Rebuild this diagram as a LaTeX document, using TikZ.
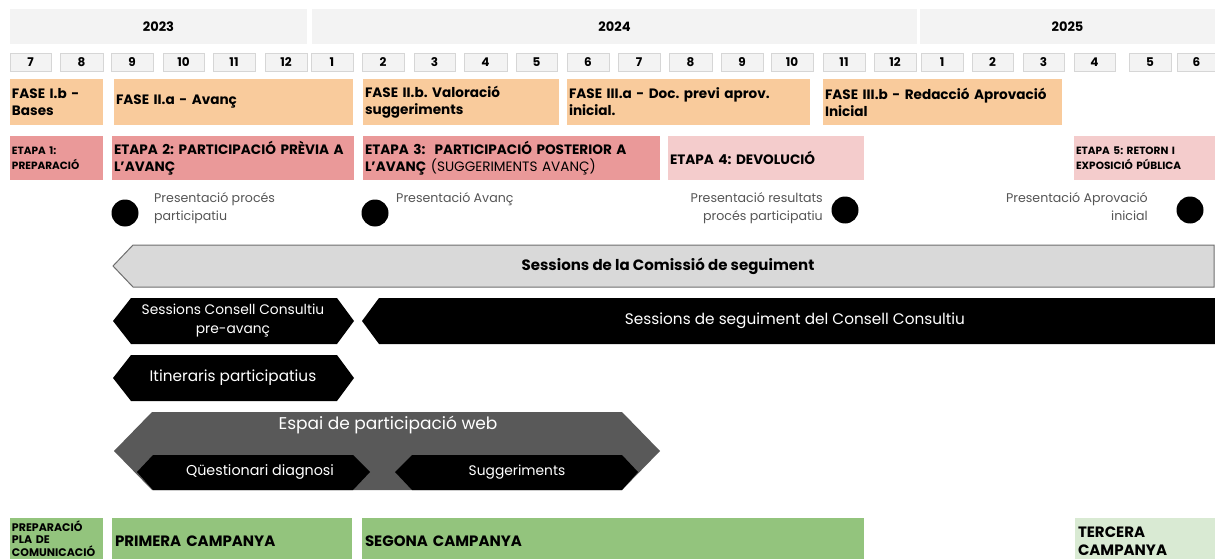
\documentclass[tikz,border=0pt]{standalone}
\usepackage{fontspec}
\setmainfont{Poppins}
\frenchspacing
\definecolor{hdr}{HTML}{F3F3F3}
\definecolor{hdrline}{HTML}{D6D6D6}
\definecolor{peach}{HTML}{F9CB9C}
\definecolor{rose}{HTML}{EA9999}
\definecolor{pink}{HTML}{F4CCCC}
\definecolor{green}{HTML}{93C47D}
\definecolor{lgreen}{HTML}{D9EAD3}
\definecolor{comfill}{HTML}{D9D9D9}
\definecolor{comline}{HTML}{6E6E6E}
\definecolor{webgray}{HTML}{595959}
\definecolor{txtgray}{HTML}{555555}
\newcommand{\fsz}[2]{\fontsize{#1}{#2}\selectfont}
\begin{document}
\begin{tikzpicture}[x=1pt,y=-1pt,
  cell/.style={anchor=north west, inner sep=0pt, outer sep=0pt},
  yearbox/.style={cell, fill=hdr, minimum height=35pt, font=\fsz{13}{16}\bfseries},
  monbox/.style={cell, fill=hdr, draw=hdrline, line width=0.6pt, minimum height=18pt, font=\fsz{12}{14}\bfseries},
  fasebox/.style={cell, fill=peach, minimum height=46pt, align=left, inner xsep=2pt, font=\fsz{13.6}{17}\bfseries},
  etapabox/.style={cell, minimum height=44pt, align=left, inner xsep=2pt, font=\fsz{13.6}{17}\bfseries},
  campbox/.style={cell, minimum height=47pt, align=left, inner xsep=3pt, font=\fsz{15}{18}\bfseries},
  dot/.style={circle, fill=black, minimum size=27pt, inner sep=0pt},
  presl/.style={anchor=north west, align=left, inner sep=0pt, text=txtgray, font=\fsz{12.6}{18.5}},
  presr/.style={anchor=north east, align=right, inner sep=0pt, text=txtgray, font=\fsz{12.6}{18.5}},
  wtext/.style={text=white, align=center, inner sep=0pt},
]
\useasboundingbox (0,0) rectangle (1215,559);
\clip (0,0) rectangle (1215,559);

% years
\node[yearbox, minimum width=297pt] (y23) at (10,9) {2023};
\node[yearbox, minimum width=605pt] (y24) at (312,9) {2024};
\node[yearbox, minimum width=295pt] (y25) at (920,9) {2025};

% months
\foreach \l/\r/\t [count=\i] in {10/51/7, 60/103/8, 111/153/9, 163/204/10, 213/255/11, 265/307/12,
  311/353/1, 362/404/2, 414/455/3, 464/507/4, 516/557/5, 567/609/6, 618/660/7, 669/712/8,
  721/763/9, 771/813/10, 823/865/11, 874/916/12, 921/963/1, 972/1013/2, 1023/1064/3,
  1074/1115/4, 1129/1171/5, 1177/1216/6}{
  \pgfmathsetmacro{\w}{\r-\l}
  \node[monbox, minimum width=\w pt] (m\i) at (\l,53) {\t};
}

% fases
\node[fasebox, minimum width=93pt, text width=89pt] (f1) at (10,79) {FASE I.b -\\Bases};
\node[fasebox, minimum width=239pt, text width=235pt] (f2) at (114,79) {FASE II.a - Avanç};
\node[fasebox, minimum width=196pt, text width=192pt] (f3) at (363,79) {FASE II.b. Valoració\\suggeriments};
\node[fasebox, minimum width=243pt, text width=239pt] (f4) at (567,79) {FASE III.a - Doc. previ aprov.\\inicial.};
\node[fasebox, minimum width=239pt, text width=235pt] (f5) at (823,79) {FASE III.b - Redacció Aprovació\\Inicial};

% etapes
\node[etapabox, fill=rose, minimum width=93pt, text width=89pt, font=\fsz{10.5}{15}\bfseries] (e1) at (10,136) {ETAPA 1:\\PREPARACIÓ};
\node[etapabox, fill=rose, minimum width=242pt, text width=238pt] (e2) at (112,136) {ETAPA 2: PARTICIPACIÓ PRÈVIA A\\L’AVANÇ};
\node[etapabox, fill=rose, minimum width=297pt, text width=293pt] (e3) at (363,136) {ETAPA 3:\ \ PARTICIPACIÓ POSTERIOR A\\L’AVANÇ {\mdseries (SUGGERIMENTS AVANÇ)}};
\node[etapabox, fill=pink, minimum width=196pt, text width=192pt] (e4) at (668,136) {ETAPA 4: DEVOLUCIÓ};
\node[etapabox, fill=pink, minimum width=141pt, text width=137pt, font=\fsz{10.5}{15}\bfseries] (e5) at (1074,136) {ETAPA 5: RETORN I\\EXPOSICIÓ PÚBLICA};

% milestones
\node[dot] (d1) at (125,213) {};
\node[presl] (p1) at (154,192) {Presentació procés\\participatiu};
\node[dot] (d2) at (375,213) {};
\node[presl] (p2) at (396,192) {Presentació Avanç};
\node[dot] (d3) at (845,210) {};
\node[presr] (p3) at (823,192) {Presentació resultats\\procés participatiu};
\node[dot] (d4) at (1190,210) {};
\node[presr] (p4) at (1148,192) {Presentació Aprovació\\inicial};

% Comissió de seguiment
\fill[comfill, draw=comline, line width=1pt] (1214,245) -- (133,245) -- (113,266) -- (133,287) -- (1214,287) -- cycle;
\node[inner sep=0pt, font=\fsz{15}{18}\bfseries] (com) at (668,266) {Sessions de la Comissió de seguiment};

% Consell Consultiu
\fill[black] (131,298) -- (337,298) -- (354,321) -- (337,344) -- (131,344) -- (113,321) -- cycle;
\node[wtext, font=\fsz{13.8}{19}] (cc1) at (233,321) {Sessions Consell Consultiu\\pre-avanç};
\fill[black] (379,298) -- (1215,298) -- (1215,344) -- (379,344) -- (362,321) -- cycle;
\node[wtext, font=\fsz{15.3}{18}] (cc2) at (795,321) {Sessions de seguiment del Consell Consultiu};

% Itineraris
\fill[black] (131,355) -- (337,355) -- (354,378) -- (337,401) -- (131,401) -- (113,378) -- cycle;
\node[wtext, font=\fsz{15.3}{18}] (it) at (233,378) {Itineraris participatius};

% Web
\fill[webgray] (152,412) -- (622,412) -- (660,451) -- (622,490) -- (152,490) -- (114,451) -- cycle;
\node[wtext, font=\fsz{17}{20}] (web) at (388,425) {Espai de participació web};
\fill[black] (153,455) -- (353,455) -- (370,472) -- (353,490) -- (153,490) -- (137,472) -- cycle;
\node[wtext, font=\fsz{14.3}{16}] (q) at (260,472) {Qüestionari diagnosi};
\fill[black] (412,455) -- (622,455) -- (638,472) -- (622,490) -- (412,490) -- (395,472) -- cycle;
\node[wtext, font=\fsz{13.8}{16}] (s) at (517,472) {Suggeriments};

% Campanyes
\node[campbox, fill=green, minimum height=41pt, minimum width=93pt, text width=89pt, inner xsep=1pt, font=\fsz{11}{12.5}\bfseries] (c0) at (10,518) {PREPARACIÓ\\PLA DE\\COMUNICACIÓ};
\node[campbox, fill=green, minimum width=240pt, text width=234pt] (c1) at (112,518) {PRIMERA CAMPANYA};
\node[campbox, fill=green, minimum width=502pt, text width=496pt] (c2) at (362,518) {SEGONA CAMPANYA};
\node[campbox, fill=lgreen, minimum width=141pt, text width=135pt] (c3) at (1075,518) {TERCERA\\CAMPANYA};
\end{tikzpicture}
\end{document}
